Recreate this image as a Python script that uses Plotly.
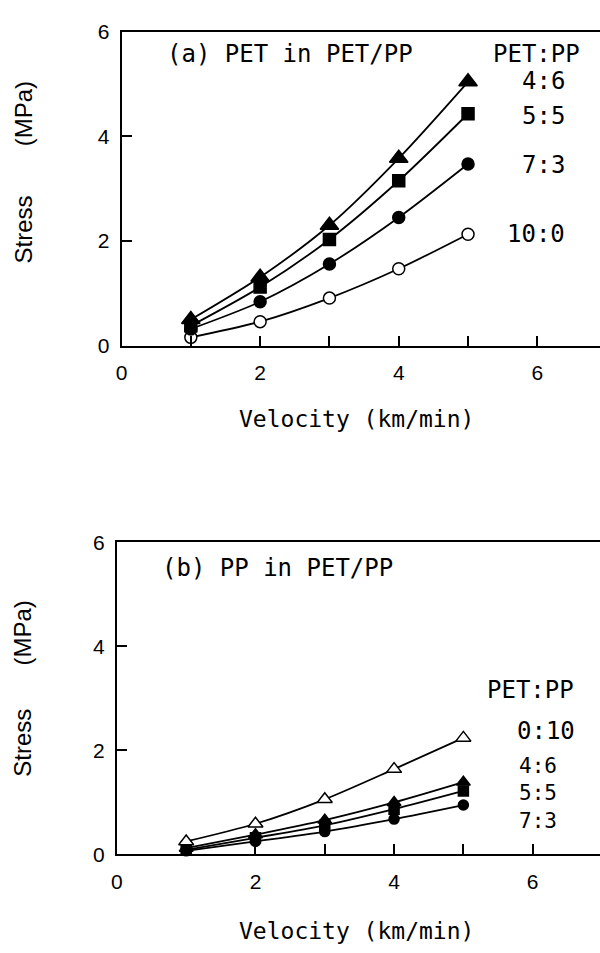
import plotly.graph_objects as go

# ---- data -------------------------------------------------------------
velocity = [1, 2, 3, 4, 5]  # km/min

# (a) stress in the PET component of PET/PP fibres (MPa)
pet_4_6 = [0.50, 1.31, 2.30, 3.58, 5.04]
pet_5_5 = [0.38, 1.12, 2.03, 3.15, 4.43]
pet_7_3 = [0.32, 0.84, 1.56, 2.45, 3.47]
pet_10_0 = [0.16, 0.46, 0.91, 1.47, 2.13]

# (b) stress in the PP component of PET/PP fibres (MPa)
pp_0_10 = [0.25, 0.59, 1.06, 1.64, 2.24]
pp_4_6 = [0.12, 0.38, 0.66, 1.00, 1.39]
pp_5_5 = [0.09, 0.32, 0.56, 0.87, 1.22]
pp_7_3 = [0.07, 0.25, 0.44, 0.68, 0.95]

x_tick_vals = [0, 1, 2, 3, 4, 5, 6]
x_tick_text = ["0", "", "2", "", "4", "", "6"]
y_tick_vals = [0, 2, 4, 6]
y_tick_text = ["0", "2", "4", "6"]

# ---- styling ----------------------------------------------------------
W, H = 600, 953
MONO = "DejaVu Sans Mono"
SANS = "Liberation Sans"
INK = "black"


def px_x(p):
    return p / W


def px_y(p):
    return 1 - p / H


fig = go.Figure()


def add_series(y, symbol, filled, size, xa, ya):
    fig.add_trace(go.Scatter(
        x=velocity, y=y, mode="lines+markers",
        line=dict(color=INK, width=1.8, shape="spline", smoothing=0.8),
        marker=dict(symbol=symbol, size=size,
                    color=INK if filled else "white",
                    line=dict(color=INK, width=1.5)),
        xaxis=xa, yaxis=ya, showlegend=False, cliponaxis=False,
    ))


# panel (a)
add_series(pet_10_0, "circle", False, 12, "x", "y")
add_series(pet_7_3, "circle", True, 12, "x", "y")
add_series(pet_5_5, "square", True, 12, "x", "y")
add_series(pet_4_6, "triangle-up", True, 16, "x", "y")

# panel (b)
add_series(pp_7_3, "circle", True, 10, "x2", "y2")
add_series(pp_5_5, "square", True, 10, "x2", "y2")
add_series(pp_4_6, "triangle-up", True, 12, "x2", "y2")
add_series(pp_0_10, "triangle-up", False, 13, "x2", "y2")

axis_common = dict(
    showgrid=False, zeroline=False, showline=True, linecolor=INK,
    linewidth=2, ticks="inside", tickcolor=INK, tickwidth=1.5,
    ticklen=10, tickfont=dict(family=SANS, size=21, color=INK),
)

fig.update_layout(
    width=W, height=H, margin=dict(l=0, r=0, t=0, b=0),
    paper_bgcolor="white", plot_bgcolor="white",
    xaxis=dict(domain=[px_x(116.7), 1], range=[0, 483.3 / 70],
               tickvals=x_tick_vals, ticktext=x_tick_text, mirror=True,
               ticklabelstandoff=7, anchor="y", **axis_common),
    yaxis=dict(domain=[px_y(342), px_y(20)], range=[0, 6],
               tickvals=y_tick_vals, ticktext=y_tick_text,
               ticklabelstandoff=6, anchor="x", **axis_common),
    xaxis2=dict(domain=[px_x(112), 1], range=[0, 488 / 70],
                tickvals=x_tick_vals, ticktext=x_tick_text, mirror=True,
                ticklabelstandoff=7, anchor="y2", **axis_common),
    yaxis2=dict(domain=[px_y(863.3), px_y(543.3)], range=[0, 6],
                tickvals=y_tick_vals, ticktext=y_tick_text,
                ticklabelstandoff=6, anchor="x2", **axis_common),
)


def label(text, x, y, size=24, family=MONO, angle=0):
    fig.add_annotation(
        text=text, x=px_x(x), y=px_y(y), xref="paper", yref="paper",
        xanchor="center", yanchor="middle", showarrow=False, textangle=angle,
        font=dict(family=family, size=size, color=INK),
    )


# panel (a) texts
label("(a) PET in PET/PP", 287, 43)
label("PET:PP", 536, 43)
label("4:6", 543, 71)
label("5:5", 543, 107)
label("7:3", 543, 157)
label("10:0", 535, 227)
label("Velocity (km/min)", 354, 417, size=23)
label("(MPa)", 18, 104, size=24, family=SANS, angle=-90)
label("Stress", 18, 223, size=24, family=SANS, angle=-90)

# panel (b) texts
label("(b) PP in PET/PP", 274, 570)
label("PET:PP", 530, 695)
label("0:10", 545, 737)
label("4:6<br>5:5<br>7:3", 537, 801, size=21)
label("Velocity (km/min)", 354, 942, size=23)
label("(MPa)", 17, 636, size=24, family=SANS, angle=-90)
label("Stress", 17, 749, size=24, family=SANS, angle=-90)

fig.write_html("out.html")
